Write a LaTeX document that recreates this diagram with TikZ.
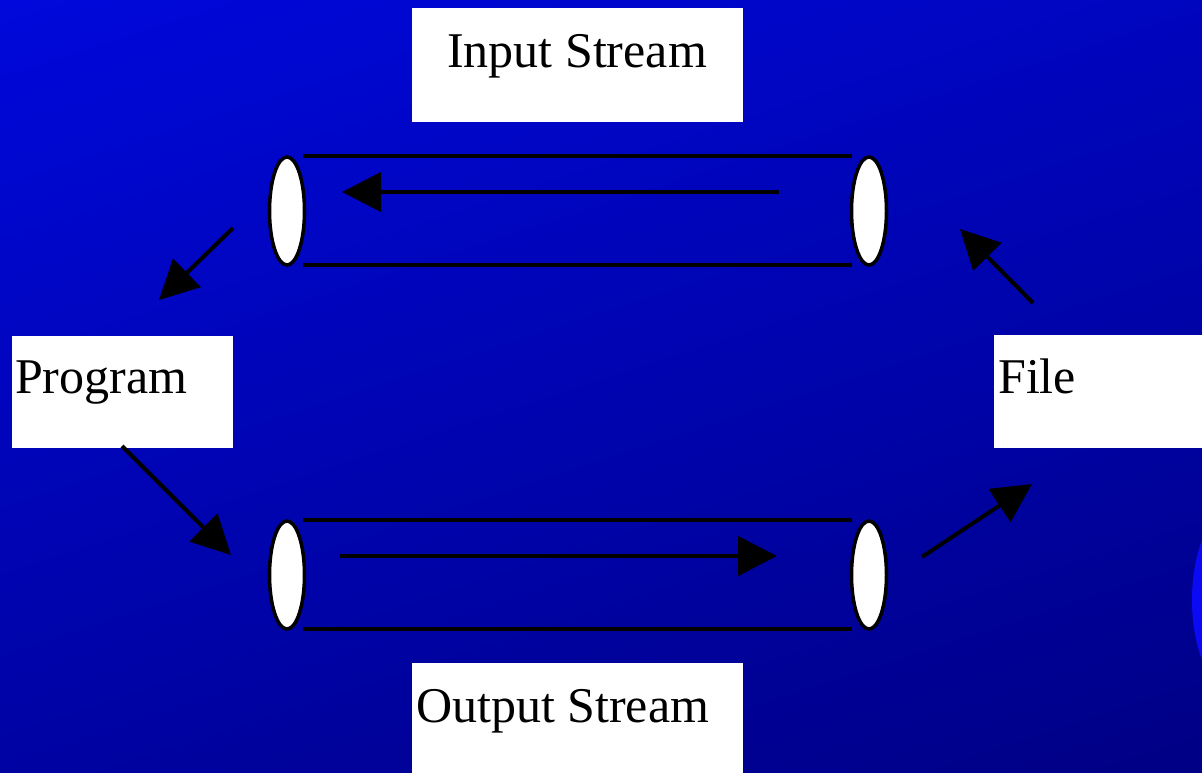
\documentclass[tikz,border=0pt]{standalone}
\usepackage{fontspec}
\setmainfont{Liberation Serif}
\usetikzlibrary{arrows.meta}
\definecolor{bgtop}{HTML}{0008DC}
\definecolor{bgbot}{HTML}{000084}
\definecolor{blob}{HTML}{0A0AF4}
\tikzset{
  box/.style={fill=white, draw=none, anchor=north west, inner sep=0pt},
  lbl/.style={anchor=base west, inner sep=0pt, font=\fontsize{50}{60}\selectfont, text=black},
  pipeline/.style={line width=3.5pt, draw=black},
  pipeend/.style={line width=3.5pt, draw=black, fill=white},
  arr/.style={line width=4pt, draw=black, -{Triangle[length=39pt,width=39pt]}},
}
\begin{document}
\begin{tikzpicture}[x=1pt,y=-1pt]
\useasboundingbox (0,0) rectangle (1202,772);
\begin{scope}
\clip (0,0) rectangle (1202,772);
\shade[top color=bgtop, bottom color=bgbot, shading angle=18] (-200,-100) rectangle (1400,872);
\fill[blob] (1232,600) ellipse [x radius=40, y radius=90];
\end{scope}

% boxes
\node[box, minimum width=331pt, minimum height=114pt] (inbox) at (412,8) {};
\node[box, minimum width=221pt, minimum height=112pt] (progbox) at (12,336) {};
\node[box, minimum width=215pt, minimum height=113pt] (filebox) at (994,335) {};
\node[box, minimum width=331pt, minimum height=115pt] (outbox) at (412,663) {};

\node[lbl] (intxt) at (447,67) {Input Stream};
\node[lbl] (progtxt) at (15,393) {Program};
\node[lbl] (filetxt) at (998,393) {File};
\node[lbl] (outtxt) at (416,722) {Output Stream};

% top pipe
\draw[pipeline] (303,156) -- (852,156);
\draw[pipeline] (303,265) -- (852,265);
\draw[pipeend] (287,211) ellipse [x radius=17.5, y radius=54];
\draw[pipeend] (869,211) ellipse [x radius=17.5, y radius=54];
% bottom pipe
\draw[pipeline] (303,520) -- (852,520);
\draw[pipeline] (303,629) -- (852,629);
\draw[pipeend] (287,575) ellipse [x radius=17.5, y radius=54];
\draw[pipeend] (869,575) ellipse [x radius=17.5, y radius=54];

% arrow end points
\coordinate (a1s) at (779,192);
\coordinate (a1e) at (342,192);
\coordinate (a2s) at (233,228);
\coordinate (a2e) at (159,300);
\coordinate (a3s) at (122,446);
\coordinate (a3e) at (231,555);
\coordinate (a4s) at (340,556);
\coordinate (a4e) at (777,556);
\coordinate (a5s) at (922,557);
\coordinate (a5e) at (1032,484);
\coordinate (a6s) at (1033,303);
\coordinate (a6e) at (960,229);

\draw[arr] (a1s) -- (a1e);
\draw[arr] (a2s) -- (a2e);
\draw[arr] (a3s) -- (a3e);
\draw[arr] (a4s) -- (a4e);
\draw[arr] (a5s) -- (a5e);
\draw[arr] (a6s) -- (a6e);
\end{tikzpicture}
\end{document}
